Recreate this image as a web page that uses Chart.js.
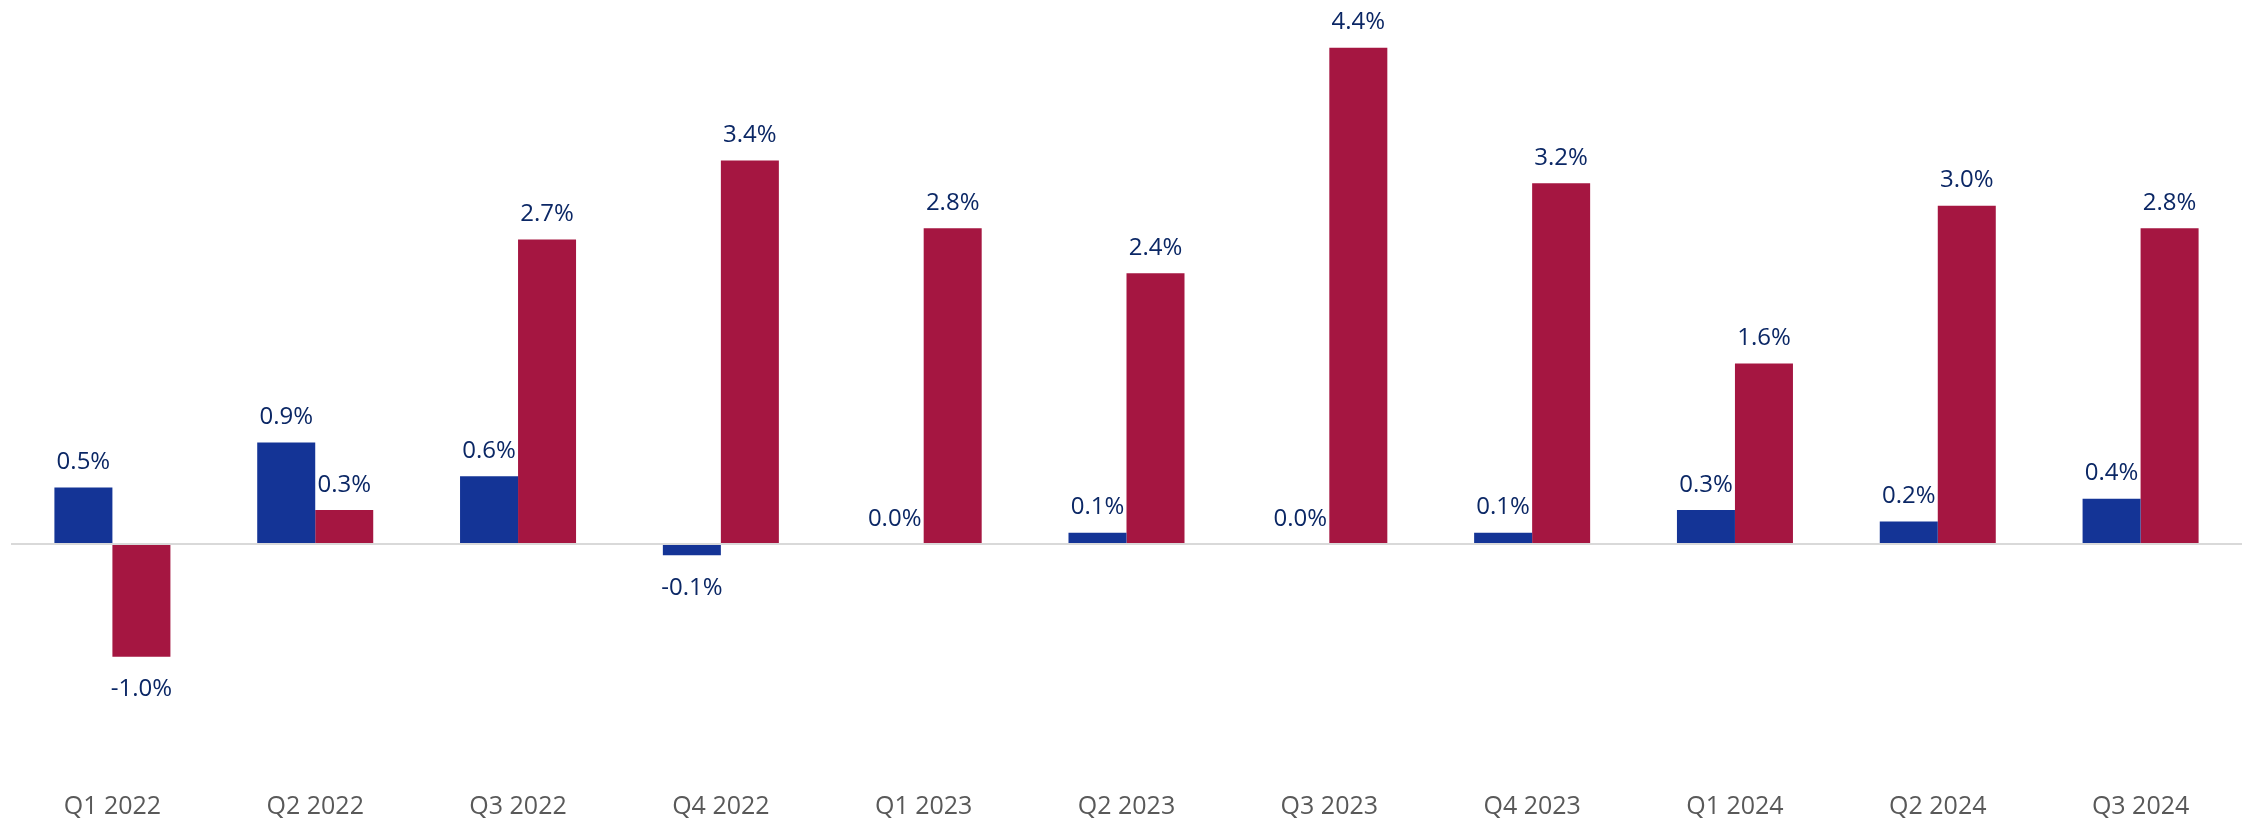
<!DOCTYPE html>
<html>
<head>
<meta charset="utf-8">
<script src="https://cdn.jsdelivr.net/npm/chart.js@4.4.1/dist/chart.umd.min.js"></script>
<style>
  html, body { margin: 0; padding: 0; background: #ffffff; }
  #wrap { width: 2251px; height: 823px; }
</style>
</head>
<body>
<div id="wrap"><canvas id="c" width="2251" height="823"></canvas></div>
<script>
const categories = ["Q1 2022", "Q2 2022", "Q3 2022", "Q4 2022", "Q1 2023", "Q2 2023", "Q3 2023", "Q4 2023", "Q1 2024", "Q2 2024", "Q3 2024"];
const seriesBlue = [0.5, 0.9, 0.6, -0.1, 0.0, 0.1, 0.0, 0.1, 0.3, 0.2, 0.4];
const seriesRed = [-1.0, 0.3, 2.7, 3.4, 2.8, 2.4, 4.4, 3.2, 1.6, 3.0, 2.8];
const yMin = -2.2;
const yMax = 4.7;

const labelFontSize = 24;
const labelPlugin = {
  id: 'barLabels',
  afterDatasetsDraw(chart) {
    const ctx = chart.ctx;
    ctx.save();
    ctx.font = labelFontSize + 'px "Open Sans"';
    ctx.fillStyle = '#0B2765';
    ctx.textAlign = 'center';
    ctx.textBaseline = 'alphabetic';
    chart.data.datasets.forEach((ds, di) => {
      const meta = chart.getDatasetMeta(di);
      meta.data.forEach((bar, i) => {
        const v = ds.data[i];
        const txt = v.toFixed(1) + '%';
        let center;
        if (v < 0) {
          center = bar.y + 31;
        } else {
          center = bar.y - 27;
        }
        ctx.fillText(txt, bar.x, center + 0.357 * labelFontSize);
      });
    });
    ctx.restore();
  }
};

new Chart(document.getElementById('c'), {
  type: 'bar',
  data: {
    labels: categories,
    datasets: [
      { data: seriesBlue, backgroundColor: '#143496', borderWidth: 0 },
      { data: seriesRed, backgroundColor: '#A51641', borderWidth: 0 }
    ]
  },
  options: {
    responsive: false,
    animation: false,
    layout: { padding: { left: 11, right: 9, top: 14, bottom: 1 } },
    datasets: { bar: { categoryPercentage: 0.572, barPercentage: 1.0 } },
    plugins: { legend: { display: false }, tooltip: { enabled: false } },
    scales: {
      x: {
        grid: { display: false, drawTicks: false },
        border: { display: false },
        ticks: {
          color: '#595959',
          font: { family: 'Open Sans', size: 25 },
          padding: 0,
          maxRotation: 0,
          autoSkip: false
        }
      },
      y: {
        min: yMin,
        max: yMax,
        border: { display: false },
        grid: {
          drawTicks: false,
          lineWidth: 2,
          color: (c) => (c.tick && c.tick.value === 0 ? '#D9D9D9' : 'rgba(0,0,0,0)')
        },
        ticks: { display: false, stepSize: 0.1, padding: 0 }
      }
    }
  },
  plugins: [labelPlugin]
});
</script>
</body>
</html>
